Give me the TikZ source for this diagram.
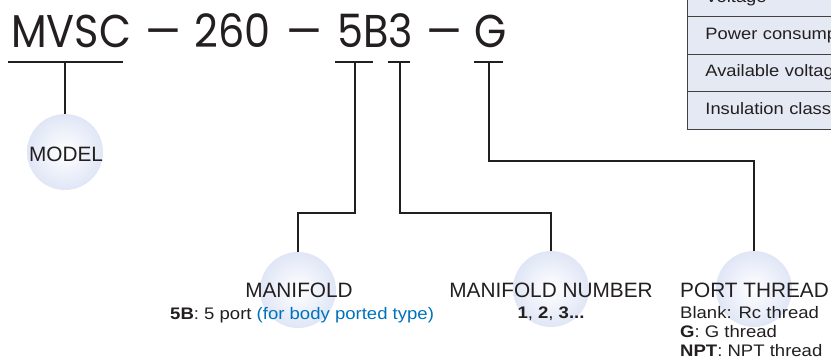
\documentclass[tikz,border=0pt]{standalone}
\usepackage{fontspec}
\setmainfont{Liberation Sans}
\newfontfamily\subf{Liberation Sans}[FakeStretch=1.11]
\newfontfamily\titlef{Poppins}[FakeStretch=0.9]
\definecolor{ink}{RGB}{35,31,32}
\definecolor{circ}{RGB}{224,230,246}
\definecolor{tabfill}{RGB}{228,233,243}
\definecolor{blu}{RGB}{0,114,188}
\tikzset{
  titletxt/.style={font=\titlef\fontsize{46}{50}\selectfont, text=ink, inner sep=0, anchor=base west},
  dashtxt/.style={font=\titlef\fontsize{46}{50}\selectfont, text=ink, inner sep=0, anchor=base},
  uline/.style={draw=ink, line width=1.2pt},
  conn/.style={draw=ink, line width=1.2pt},
  ball/.style={circle, minimum size=76pt, inner sep=0, shading=radial, inner color=white, outer color=circ},
  head/.style={font=\fontsize{20.8}{24}\selectfont, text=ink, inner sep=0},
  subtxt/.style={font=\subf\fontsize{16.7}{18}\selectfont, text=ink, inner sep=0},
  rowbox/.style={draw=ink!85, line width=0.9pt, fill=tabfill, anchor=north west, minimum height=37.5pt, text width=300pt, align=left, inner xsep=18pt, inner ysep=0, text height=12pt, text depth=3.5pt, font=\subf\fontsize{16.5}{18}\selectfont, text=ink}
}
\begin{document}
\begin{tikzpicture}[x=1pt,y=-1pt]
\useasboundingbox (0,0) rectangle (831,360);
\clip (0,0) rectangle (831,360);
% table (top right)
\node[rowbox] (r0) at (687,-21) {Voltage};
\node[rowbox] (r1) at (687,16) {Power consumption};
\node[rowbox] (r2) at (687,53.5) {Available voltage};
\node[rowbox] (r3) at (687,91) {Insulation class};
% title
\node[titletxt] (t1) at (11,47) {MVSC};
\node[dashtxt] (d1) at (163,47) {\scalebox{1.35}[1]{–}};
\node[titletxt] (t2) at (194,47) {260};
\node[dashtxt] (d2) at (304,47) {\scalebox{1.35}[1]{–}};
\node[titletxt] (t3) at (337,47) {5B3};
\node[dashtxt] (d3) at (444,47) {\scalebox{1.35}[1]{–}};
\node[titletxt] (t4) at (474,47) {G};
% underlines
\draw[uline] (8,62) -- (123,62);
\draw[uline] (335,62) -- (373,62);
\draw[uline] (388,62) -- (410,62);
\draw[uline] (474,62) -- (503,62);
\coordinate (u1) at (65,62);
\coordinate (u2) at (355,62);
\coordinate (u3) at (400,62);
\coordinate (u4) at (489,62);
% circles
\node[ball] (c1) at (65,152) {};
\node[ball] (c2) at (298,290) {};
\node[ball] (c3) at (551,289) {};
\node[ball] (c4) at (754,289) {};
% connectors
\draw[conn] (u1) -- (c1.north);
\draw[conn] (u2) -- (u2 |- 0,213) -| (c2.north);
\draw[conn] (u3) -- (u3 |- 0,213) -| (c3.north);
\draw[conn] (u4) -- (u4 |- 0,161) -| (c4.north);
% labels
\node[head, anchor=base] (l1) at (66,161) {MODEL};
\node[head, anchor=base] (l2) at (299,297.5) {MANIFOLD};
\node[subtxt, anchor=base west] (s2) at (170,319) {\textbf{5B}: 5 port \textcolor{blu}{(for body ported type)}};
\node[head, anchor=base] (l3) at (551,297.5) {MANIFOLD NUMBER};
\node[subtxt, anchor=base] (s3) at (551,318.5) {\textbf{1}, \textbf{2}, \textbf{3...}};
\node[head, anchor=base west] (l4) at (680,297.5) {PORT THREAD};
\node[subtxt, anchor=base west] (s4a) at (680,318) {Blank: Rc thread};
\node[subtxt, anchor=base west] (s4b) at (680,337) {\textbf{G}: G thread};
\node[subtxt, anchor=base west] (s4c) at (680,356) {\textbf{NPT}: NPT thread};
\end{tikzpicture}
\end{document}
